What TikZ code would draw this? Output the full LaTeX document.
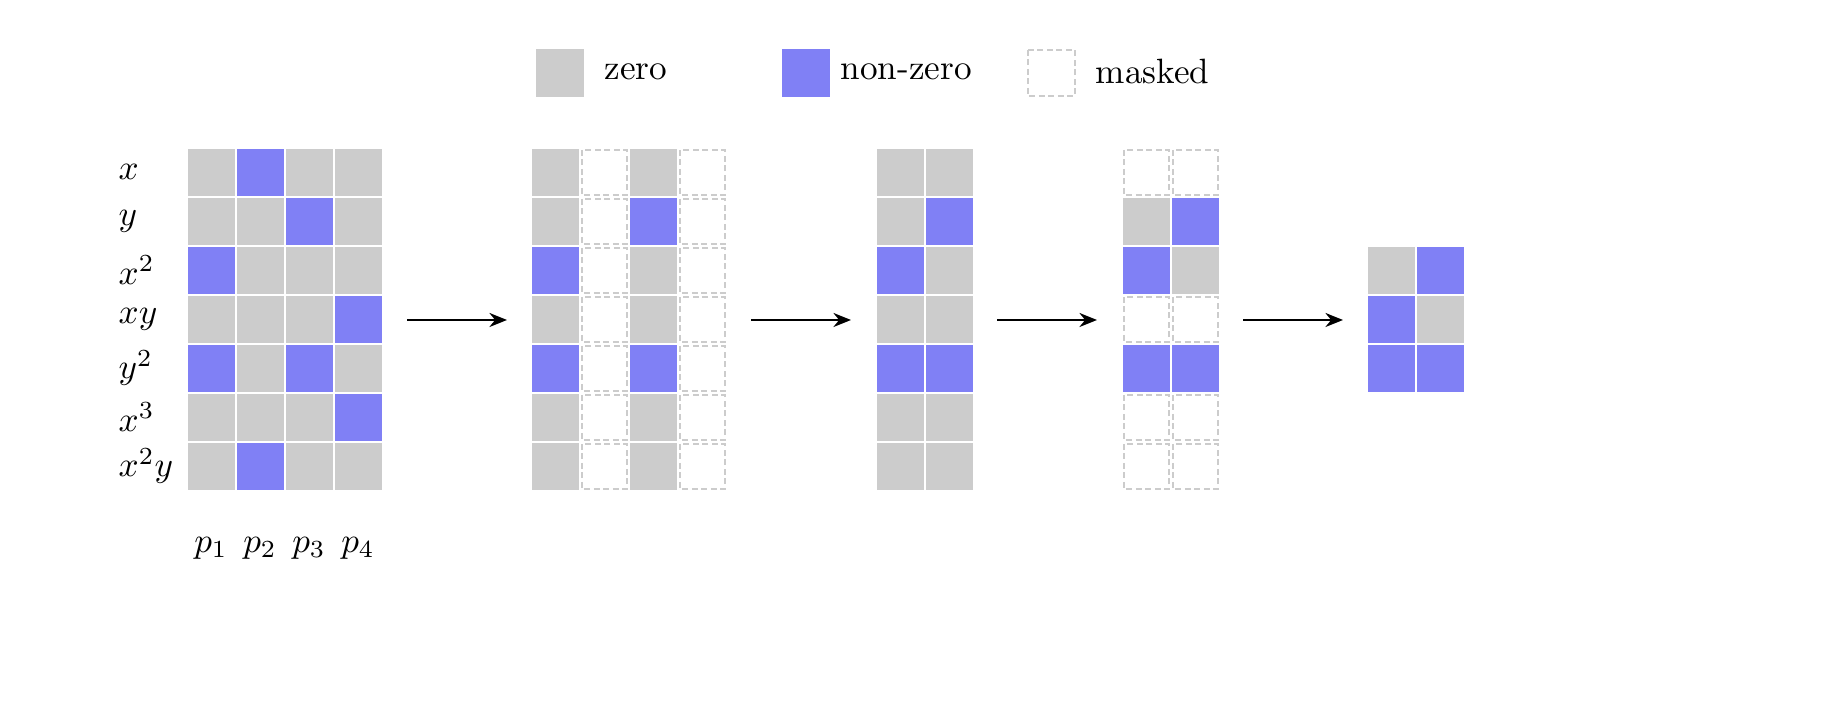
\documentclass[tikz,border=0pt]{standalone}
\usetikzlibrary{arrows.meta}
\definecolor{zc}{HTML}{CCCCCC}
\definecolor{nz}{HTML}{8080F5}
\begin{document}
\begin{tikzpicture}[x=0.01cm,y=-0.01cm,
  gcell/.style={fill=zc},
  bcell/.style={fill=nz},
  mcell/.style={fill=white,draw=zc,line width=0.45pt,dash pattern=on 1.6pt off 1.1pt},
  lab/.style={font=\fontsize{10}{12}\selectfont,inner sep=0pt},
  arr/.style={line width=0.6pt,-{Stealth[length=5pt,width=4pt]}}]
\useasboundingbox (0,0) rectangle (1842,710);
% legend
\fill[gcell] (536,49) rectangle (584,97);
\node[lab,anchor=west] (lz) at (604,72) {zero};
\fill[bcell] (782,49) rectangle (830,97);
\node[lab,anchor=west] (ln) at (840,72) {non-zero};
\draw[mcell] (1028,50) rectangle (1075,96);
\node[lab,anchor=west] (lm) at (1095,72) {masked};
% grid 1
\foreach \i in {0,...,3} \foreach \j in {0,...,6}
  \fill[gcell] ({187+49*\i+1},{148+49*\j+1}) rectangle +(47,47);
\foreach \i/\j in {1/0,2/1,0/2,3/3,0/4,2/4,3/5,1/6}
  \fill[bcell] ({187+49*\i+1},{148+49*\j+1}) rectangle +(47,47);
\foreach \t [count=\j from 0] in {x,y,x^2,xy,y^2,x^3,x^2y}
  \node[lab,anchor=west] (r\j) at (118,{172+49*\j}) {$\t$};
\foreach \i in {1,...,4}
  \node[lab] (p\i) at ({211+49*(\i-1)},548) {$p_{\i}$};
% grid 2
\foreach \i in {0,2} \foreach \j in {0,...,6}
  \fill[gcell] ({531+49*\i+1},{148+49*\j+1}) rectangle +(47,47);
\foreach \i in {1,3} \foreach \j in {0,...,6}
  \draw[mcell] ({531+49*\i+2},{148+49*\j+2}) rectangle +(45,45);
\foreach \i/\j in {0/2,2/1,0/4,2/4}
  \fill[bcell] ({531+49*\i+1},{148+49*\j+1}) rectangle +(47,47);
% grid 3
\foreach \i in {0,1} \foreach \j in {0,...,6}
  \fill[gcell] ({876+49*\i+1},{148+49*\j+1}) rectangle +(47,47);
\foreach \i/\j in {1/1,0/2,0/4,1/4}
  \fill[bcell] ({876+49*\i+1},{148+49*\j+1}) rectangle +(47,47);
% grid 4
\foreach \i in {0,1} \foreach \j in {1,2,4}
  \fill[gcell] ({1122+49*\i+1},{148+49*\j+1}) rectangle +(47,47);
\foreach \i in {0,1} \foreach \j in {0,3,5,6}
  \draw[mcell] ({1122+49*\i+2},{148+49*\j+2}) rectangle +(45,45);
\foreach \i/\j in {1/1,0/2,0/4,1/4}
  \fill[bcell] ({1122+49*\i+1},{148+49*\j+1}) rectangle +(47,47);
% grid 5
\foreach \i in {0,1} \foreach \j in {0,1,2}
  \fill[gcell] ({1367+49*\i+1},{246+49*\j+1}) rectangle +(47,47);
\foreach \i/\j in {1/0,0/1,0/2,1/2}
  \fill[bcell] ({1367+49*\i+1},{246+49*\j+1}) rectangle +(47,47);
% arrows
\coordinate (a1) at (407,320); \coordinate (b1) at (507,320);
\coordinate (a2) at (751,320); \coordinate (b2) at (851,320);
\coordinate (a3) at (997,320); \coordinate (b3) at (1097,320);
\coordinate (a4) at (1243,320); \coordinate (b4) at (1343,320);
\foreach \k in {1,...,4} \draw[arr] (a\k) -- (b\k);
\end{tikzpicture}
\end{document}
